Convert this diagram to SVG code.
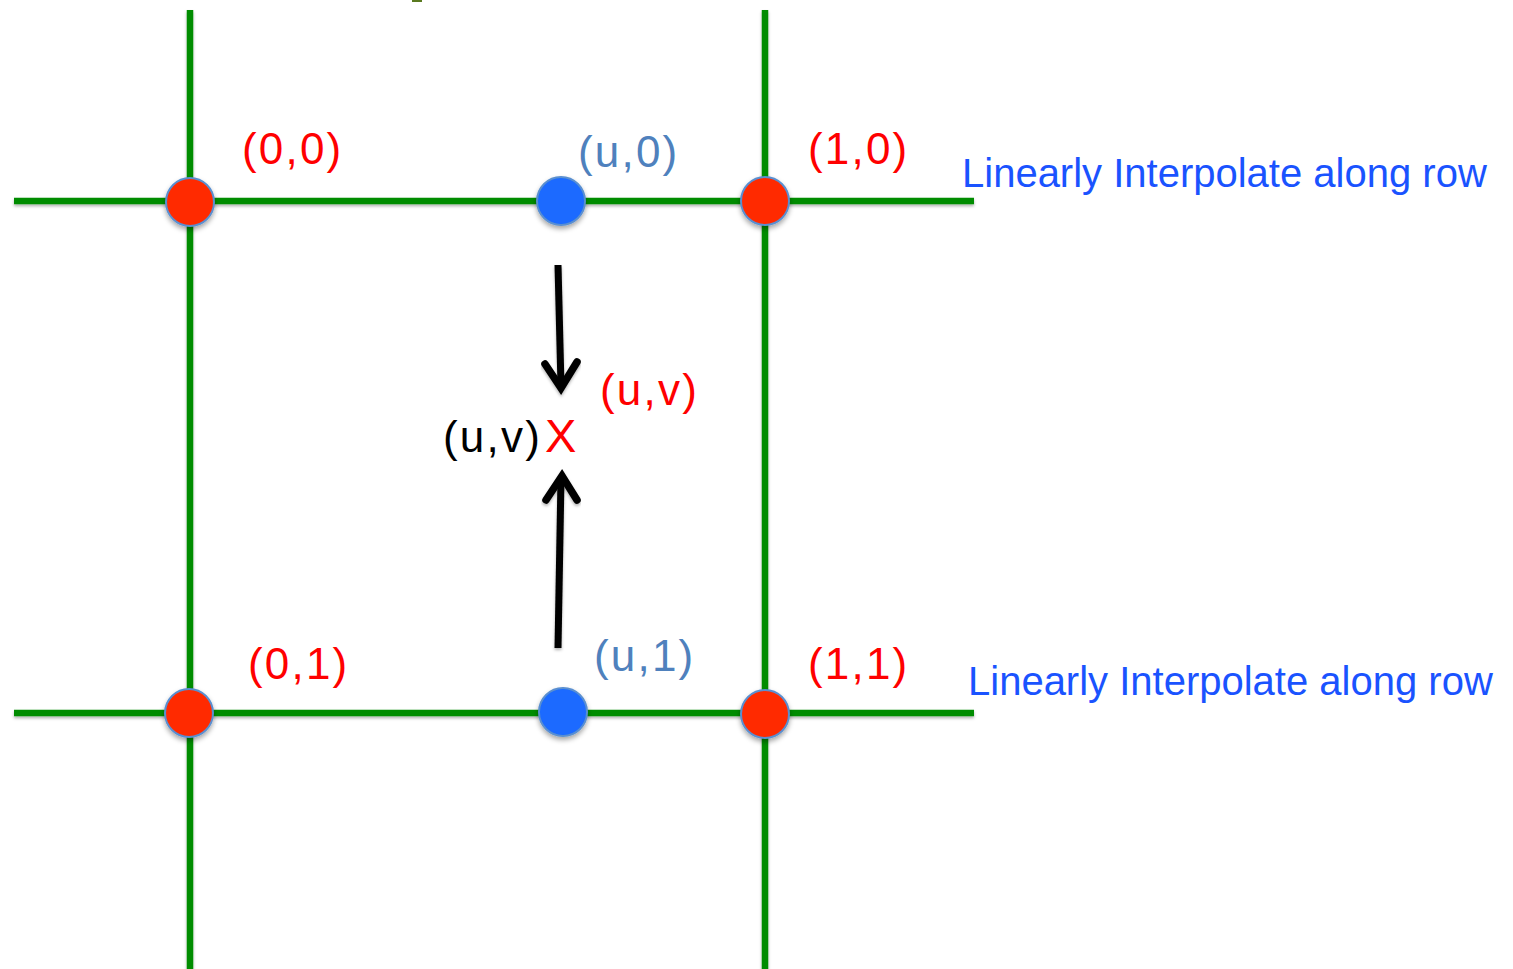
<svg xmlns="http://www.w3.org/2000/svg" width="1513" height="969" viewBox="0 0 1513 969">
<style>
.grid{stroke:#008c00;stroke-width:6.5;fill:none}
.lbl{font-family:"Liberation Sans",Arial,sans-serif;font-size:44px;letter-spacing:2.2px}
.red{fill:#ff0000}
.sb{fill:#4f81bd}
.row{font-family:"Liberation Sans",Arial,sans-serif;font-size:40px;fill:#1a53ff}
.arr{stroke:#000;stroke-width:7;fill:none;stroke-linecap:butt}
.head{stroke:#000;stroke-width:7.5;fill:none;stroke-linecap:round;stroke-linejoin:miter}
.rn{fill:#ff2a00;stroke:#5a8fd0;stroke-width:2;filter:url(#sh)}
.bn{fill:#1a6aff;stroke:#5a8fd0;stroke-width:2;filter:url(#sh)}
</style>
<defs>
<filter id="sh" x="-50%" y="-50%" width="200%" height="200%">
<feDropShadow dx="0" dy="3" stdDeviation="2.5" flood-color="#000" flood-opacity="0.35"/>
</filter>
<filter id="lsh" x="-10%" y="-10%" width="120%" height="120%">
<feDropShadow dx="0" dy="2" stdDeviation="1.5" flood-color="#000" flood-opacity="0.3"/>
</filter>
</defs>
<rect width="1513" height="969" fill="#fff"/>
<rect x="412" y="0" width="10" height="2" fill="#5a7a20"/>
<g id="connectors">
<g filter="url(#lsh)">
<line class="grid" x1="190" y1="10" x2="190" y2="969"/>
<line class="grid" x1="765" y1="10" x2="765" y2="969"/>
<line class="grid" x1="14" y1="201" x2="974" y2="201"/>
<line class="grid" x1="14" y1="713" x2="974" y2="713"/>
</g>
<g filter="url(#lsh)">
<line class="arr" x1="558" y1="265" x2="561" y2="386"/>
<polyline class="head" points="545,364 561,388 577,362"/>
<line class="arr" x1="558" y1="648" x2="561" y2="478"/>
<polyline class="head" points="546,500 562,476 577,500"/>
</g>
</g>
<g id="n00"><circle class="rn" cx="190" cy="202" r="24"/><text class="lbl red" x="242" y="164">(0,0)</text></g>
<g id="n10"><circle class="rn" cx="765" cy="201" r="24"/><text class="lbl red" x="808" y="164">(1,0)</text></g>
<g id="n01"><circle class="rn" cx="189" cy="713" r="24"/><text class="lbl red" x="248" y="679">(0,1)</text></g>
<g id="n11"><circle class="rn" cx="765" cy="714" r="24"/><text class="lbl red" x="808" y="679">(1,1)</text></g>
<g id="nu0"><circle class="bn" cx="561" cy="201" r="24"/><text class="lbl sb" x="578" y="167">(u,0)</text></g>
<g id="nu1"><circle class="bn" cx="563" cy="712" r="24"/><text class="lbl sb" x="594" y="671">(u,1)</text></g>
<g id="nuv">
<text class="lbl red" x="600" y="405">(u,v)</text>
<text class="lbl" x="443" y="452" fill="#000">(u,v)</text>
<text class="lbl red" x="545" y="452" style="font-size:47px;letter-spacing:0">X</text>
</g>
<g id="row1"><text class="row" x="962" y="187">Linearly Interpolate along row</text></g>
<g id="row2"><text class="row" x="968" y="695">Linearly Interpolate along row</text></g>
</svg>
